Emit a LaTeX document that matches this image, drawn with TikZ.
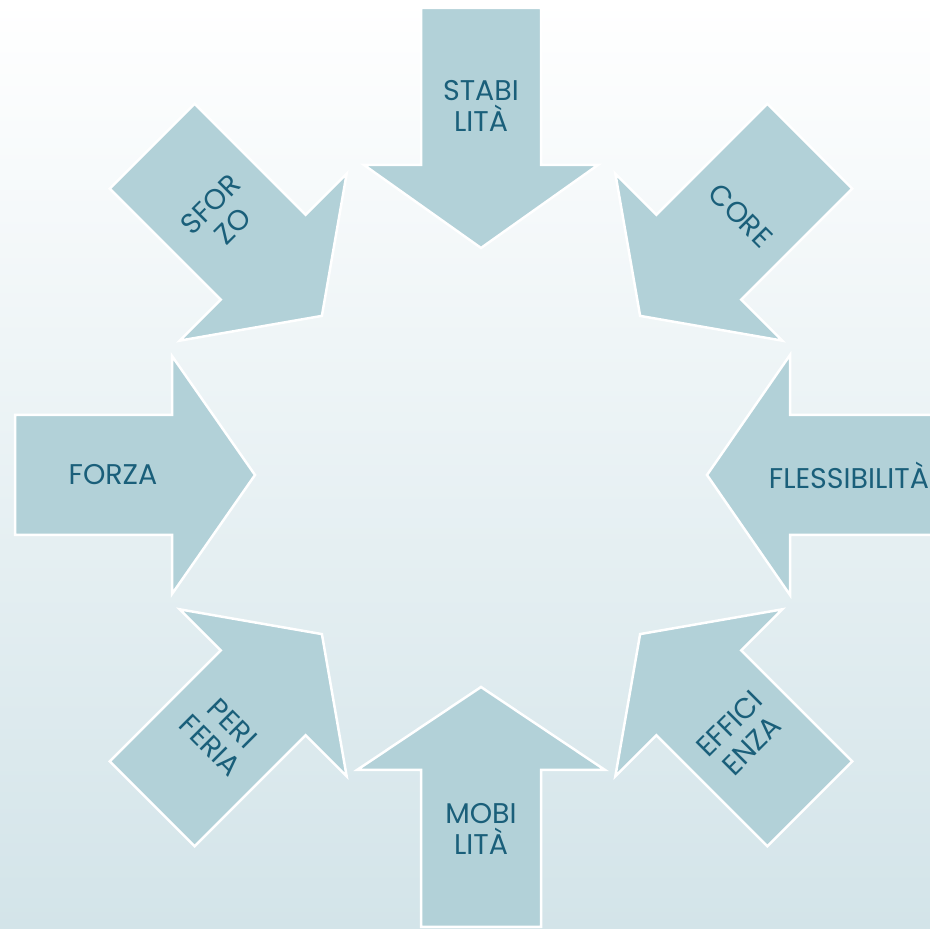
\documentclass[tikz,border=0pt]{standalone}
\usepackage{fontspec}
\setmainfont{Poppins}

\definecolor{arrowfill}{HTML}{B2D1D8}
\definecolor{labeltext}{HTML}{1A5F7A}
\definecolor{bgbottom}{HTML}{D3E4E9}

\begin{document}
\begin{tikzpicture}[
  x=1pt, y=1pt,
  arrowbox/.style={fill=arrowfill, draw=white, line width=2.5pt},
  lbl/.style={text=labeltext, align=center, inner sep=0pt, font=\fontsize{28.5}{31}\selectfont}
]
\clip (0,0) rectangle (930,929);
\shade[top color=white, bottom color=bgbottom] (0,0) rectangle (930,929);
\coordinate (hub) at (481,454);

% eight arrows, all pointing at the hub
\foreach \ang/\dist/\head/\rot/\nm/\txt in {
  90/227/117/0/stab/{STABI\\LITÀ},
  45/225/118/-45/core/{CORE},
  0/226/120/0/fless/{FLESSIBILITÀ},
  -45/225/118/45/effi/{EFFICI\\ENZA},
  -90/212/124/0/mobi/{MOBI\\LITÀ},
  -135/225/118/-45/peri/{PERI\\FERIA},
  180/226/119/0/forza/{FORZA},
  135/225/118/45/sforzo/{SFOR\\ZO}}{
  \begin{scope}[shift={(hub)}, rotate=\ang]
    \draw[arrowbox] (\dist,0) -- (\dist+83,\head) -- (\dist+83,60) -- (\dist+240,60)
      -- (\dist+240,-60) -- (\dist+83,-60) -- (\dist+83,-\head) -- cycle;
    \node[lbl, rotate=\rot] (\nm) at (\dist+142,0) {\txt};
  \end{scope}
}
\end{tikzpicture}
\end{document}
